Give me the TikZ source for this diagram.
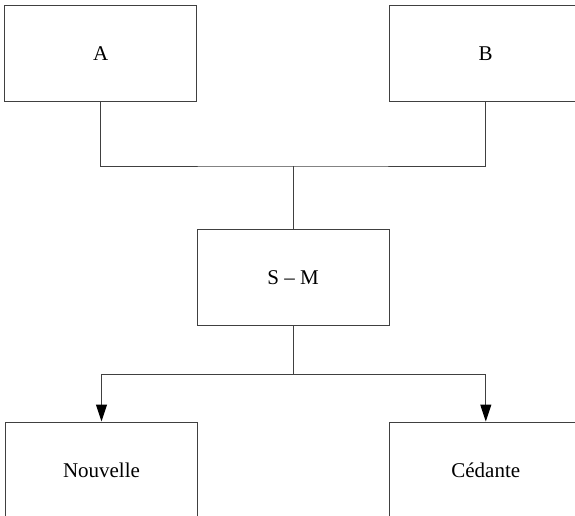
\documentclass[tikz,border=0pt]{standalone}
\usepackage{fontspec}
\setmainfont{Liberation Serif}
\usetikzlibrary{arrows.meta}
\definecolor{linegray}{RGB}{64,64,64}
\begin{document}
\begin{tikzpicture}[x=1pt,y=-1pt,
  box/.style={draw=linegray, line width=1pt, minimum width=192pt, minimum height=96pt,
    inner sep=0pt, font=\fontsize{21}{25}\selectfont},
  link/.style={draw=linegray, line width=1pt},
  arr/.style={link, -{Triangle[length=17pt,width=11pt,color=black]}}]
  \useasboundingbox (0,0) rectangle (575,516);
  % upper parents
  \node[box] (A) at (100.8,53.5) {A};
  \node[box] (B) at (485.5,53.5) {B};
  % merged entity
  \node[box] (SM) at (293,277.7) {S – M};
  % resulting entities
  \node[box] (N) at (101.5,470) {Nouvelle};
  \node[box] (C) at (485.8,470) {Cédante};
  % junction points
  \coordinate (j1) at (293,166);
  \coordinate (j2) at (293,374);
  \draw[link] (A.south) |- (j1) -| (B.south);
  \draw[link] (j1) -- (SM.north);
  \draw[link] (SM.south) -- (j2);
  \draw[arr] (j2) -| (N.north);
  \draw[arr] (j2) -| (C.north);
\end{tikzpicture}
\end{document}
